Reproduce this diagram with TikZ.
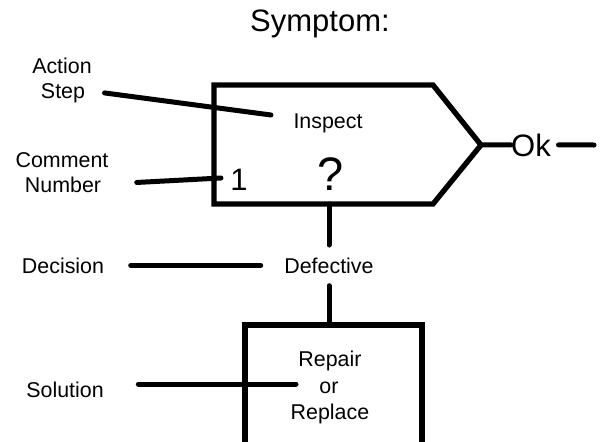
\documentclass[tikz,border=0pt]{standalone}
\usepackage{fontspec}
\setmainfont{Liberation Sans}

\begin{document}
\begin{tikzpicture}[x=1pt, y=-1pt,
    lbl/.style={font=\fontsize{21.4}{25}\selectfont, inner sep=0pt, text height=15.3pt, text depth=0pt, anchor=base},
    big/.style={lbl, font=\fontsize{31}{36}\selectfont, text height=22.2pt},
    box/.style={draw, line width=5.3pt},
    lead/.style={line width=5pt, line cap=round},
]
    \path[use as bounding box] (0,0) rectangle (603,442);
    % Title
    \node[big] (title) at (320,31) {Symptom:};
    % Action step box
    \draw[box] (214,85) -- (433,85) -- (481,145) -- (433,204) -- (214,204) -- cycle;
    \coordinate (tip) at (481,145);
    \coordinate (sbot) at (214,204);
    \node[lbl] (inspect) at (328,128) {Inspect};
    \node[big] (num) at (239,190) {1};
    \node[big, font=\fontsize{47}{52}\selectfont, text height=34pt] (query) at (331,190) {?};
    \node[big] (ok) at (531,156) {Ok};
    % Solution box
    \draw[box] (245,325) rectangle (422,447);
    \coordinate (btop) at (331,325);
    \node[lbl] (repair) at (330,366) {Repair};
    \node[lbl] (or) at (329,393) {or};
    \node[lbl] (replace) at (330,419) {Replace};
    % Labels
    \node[lbl] (action) at (62,73) {Action};
    \node[lbl] (step) at (63,98) {Step};
    \node[lbl] (comment) at (62,167) {Comment};
    \node[lbl] (number) at (63,192) {Number};
    \node[lbl] (decision) at (63,273) {Decision};
    \node[lbl] (defective) at (329,273) {Defective};
    \node[lbl] (solution) at (65,397) {Solution};
    % Leaders
    \coordinate (stepend) at (271,115);
    \coordinate (numend) at (221,178);
    \coordinate (solend) at (296,384);
    \coordinate (okend) at (594,145);
    \draw[lead, shorten <=19.5pt] (step.east) -- (stepend);
    \draw[lead, shorten <=35.5pt] (number.east) -- (numend);
    \draw[lead, shorten <=26.5pt, shorten >=23.5pt] (decision.east) -- (defective.west);
    \draw[lead, shorten <=34.5pt] (solution.east |- solend) -- (solend);
    \draw[lead] (tip) -- (ok.west);
    \draw[lead, shorten <=7.5pt] (ok.east) -- (okend);
    \draw[lead, shorten >=12.5pt] (defective.north |- sbot) -- (defective.north);
    \draw[lead, shorten <=12.5pt] (defective.south) -- (defective.south |- btop);
\end{tikzpicture}
\end{document}
